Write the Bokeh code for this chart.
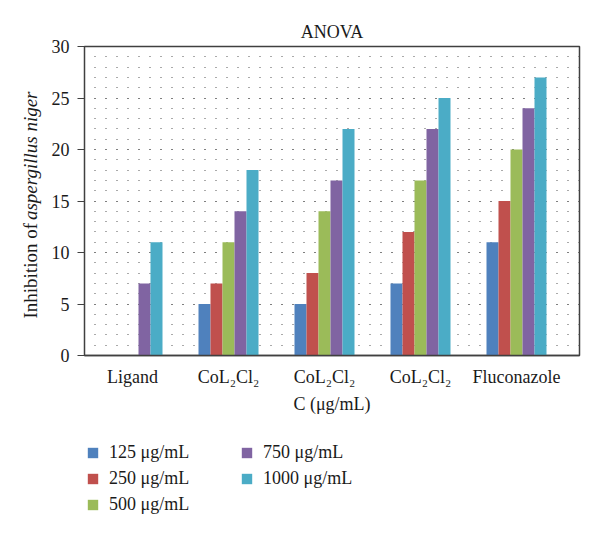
from bokeh.plotting import figure
from bokeh.models import (Range1d, FixedTicker, SingleIntervalTicker, Label, Legend, LegendItem)
from bokeh.layouts import row, column
from bokeh.embed import file_html
from bokeh.resources import INLINE
import math

categories = ["Ligand", "CoL₂Cl₂", "CoL₂Cl₂", "CoL₂Cl₂", "Fluconazole"]
series_names = ["125 μg/mL", "250 μg/mL", "500 μg/mL", "750 μg/mL", "1000 μg/mL"]
s125 = [0, 5, 5, 7, 11]
s250 = [0, 7, 8, 12, 15]
s500 = [0, 11, 14, 17, 20]
s750 = [7, 14, 17, 22, 24]
s1000 = [11, 18, 22, 25, 27]
series = [s125, s250, s500, s750, s1000]
colors = ["#4F81BD", "#C0504D", "#9BBB59", "#8064A2", "#4BACC6"]

FONT = "Liberation Serif"
FS = "18px"
TXT = "#1a1a1a"


def blank(w, h, y0=0):
    f = figure(width=w, height=h, output_backend="svg", toolbar_location=None,
               x_range=Range1d(0, w), y_range=Range1d(y0, y0 + h),
               min_border_left=0, min_border_right=0, min_border_top=0, min_border_bottom=0,
               x_axis_type=None, y_axis_type=None, title=None)
    f.outline_line_color = None
    f.grid.visible = False
    return f


# ---- narrow figure holding the two-style y-axis title ----
LW, H = 46, 540
lab = blank(LW, H)
lab.add_layout(Label(x=30, y=222, text="Inhibition of", angle=math.pi / 2,
                     text_font=FONT, text_font_size="19px", text_color=TXT,
                     text_align="left", text_baseline="middle"))
lab.add_layout(Label(x=30, y=449, text="aspergillus niger", angle=math.pi / 2,
                     text_font=FONT, text_font_size="19px", text_font_style="italic",
                     text_color=TXT, text_align="right", text_baseline="middle"))

# ---- main chart ----
MAIN_W = 600 - LW
XMAX = len(categories) * 495 / 480
p = figure(frame_width=495, frame_height=309, output_backend="svg", toolbar_location=None,
           x_range=Range1d(0, XMAX), y_range=Range1d(0, 30),
           min_border_left=84 - LW, min_border_right=21, min_border_top=46, min_border_bottom=60,
           title="ANOVA")
p.title.align = "center"
p.title.text_font = FONT
p.title.text_font_style = "normal"
p.title.text_font_size = FS
p.title.text_color = TXT

p.outline_line_color = "#404040"
p.outline_line_width = 1.5

bw = 0.125


def bar_x(j):
    return [i + 0.5 + (j - 2) * bw for i in range(len(categories))]


for j, (vals, c) in enumerate(zip(series, colors)):
    p.vbar(x=bar_x(j), top=vals, bottom=0, width=bw, fill_color=c, line_color=None)

# x axis
p.xaxis.ticker = FixedTicker(ticks=[i + 0.5 for i in range(len(categories))])
p.xaxis.major_label_overrides = {i + 0.5: c for i, c in enumerate(categories)}
p.xaxis.major_tick_line_color = None
p.xaxis.minor_tick_line_color = None
p.xaxis.axis_line_color = "#404040"
p.xaxis.axis_line_width = 1.5
p.xaxis.major_label_text_font = FONT
p.xaxis.major_label_text_font_size = FS
p.xaxis.major_label_text_color = TXT
p.xaxis.major_label_standoff = 5
p.xaxis.axis_label = "C (μg/mL)"
p.xaxis.axis_label_text_font = FONT
p.xaxis.axis_label_text_font_style = "normal"
p.xaxis.axis_label_text_font_size = FS
p.xaxis.axis_label_text_color = TXT
p.xaxis.axis_label_standoff = 4

# y axis
p.yaxis.ticker = SingleIntervalTicker(interval=5, num_minor_ticks=5)
p.yaxis.axis_line_color = "#404040"
p.yaxis.major_tick_line_color = "#404040"
p.yaxis.major_tick_out = 7
p.yaxis.major_tick_in = 0
p.yaxis.minor_tick_line_color = None
p.yaxis.major_label_text_font = FONT
p.yaxis.major_label_text_font_size = FS
p.yaxis.major_label_text_color = TXT
p.yaxis.major_label_standoff = 8

# dot grid
p.xgrid.grid_line_color = None
p.ygrid.grid_line_color = "#555555"
p.ygrid.grid_line_dash = "1 10"
p.ygrid.grid_line_dash_offset = 1
p.ygrid.minor_grid_line_color = "#555555"
p.ygrid.minor_grid_line_dash = "1 10"
p.ygrid.minor_grid_line_dash_offset = 1

# ---- legend strip under the chart (its bars lie outside the visible y range) ----
LEG_H = 540 - (46 + 309 + 60)
legf = blank(MAIN_W, LEG_H, y0=1000)
items = []
for j, (n, vals, c) in enumerate(zip(series_names, series, colors)):
    r = legf.vbar(x=bar_x(j), top=vals, bottom=0, width=bw, fill_color=c, line_color=None)
    items.append(LegendItem(label=n, renderers=[r]))
leg = Legend(items=items, location=(2, 26), nrows=3, orientation="vertical",
             glyph_width=13, glyph_height=13, label_standoff=10, label_width=126,
             label_height=20, spacing=5, padding=0, margin=0,
             background_fill_alpha=0, border_line_color=None,
             label_text_font=FONT, label_text_font_size=FS, label_text_color=TXT)
legf.add_layout(leg, "center")

layout = row(lab, column(p, legf, spacing=0), spacing=0)
open("out.html", "w").write(file_html(layout, INLINE))
